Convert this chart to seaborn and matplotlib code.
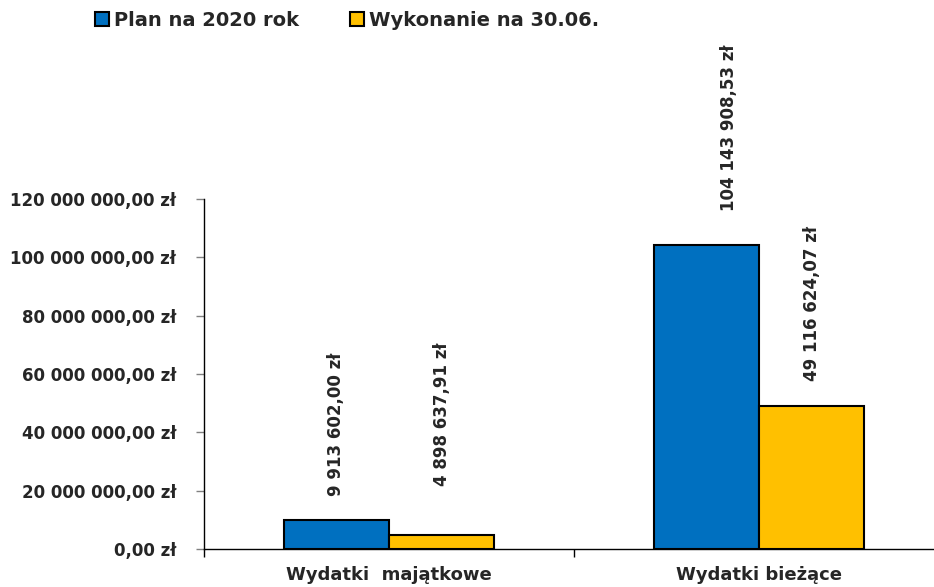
import pandas as pd
import matplotlib
matplotlib.use('Agg')
import matplotlib.pyplot as plt
from matplotlib.ticker import FuncFormatter, FixedLocator
import seaborn as sns

# Data
categories = ['Wydatki  majątkowe', 'Wydatki bieżące']
series = ['Plan na 2020 rok', 'Wykonanie na 30.06.']
plan = [9913602.00, 104143908.53]
wykonanie = [4898637.91, 49116624.07]

colors = ['#0070C0', '#FFC000']

df = pd.DataFrame({
    'kategoria': categories * 2,
    'seria': [series[0]] * 2 + [series[1]] * 2,
    'kwota': plan + wykonanie,
})


def fmt_zl(v, pos=None):
    s = f"{v:,.2f}".replace(',', ' ').replace('.', ',')
    return s + ' zł'


sns.set_style('white')
plt.rcParams['font.family'] = ['DejaVu Sans']
plt.rcParams['font.weight'] = 'bold'

fig = plt.figure(figsize=(9.34, 5.87), dpi=100)
ax = fig.add_axes([204 / 934, 1 - 549 / 587, 740 / 934, 350 / 587])

sns.barplot(data=df, x='kategoria', y='kwota', hue='seria', palette=colors,
            width=0.57, edgecolor='black', linewidth=1.5, saturation=1, ax=ax)

ax.set_xlim(-0.5, 1.5)
ax.set_ylim(0, 120000000)
ax.set_yticks(range(0, 120000001, 20000000))
ax.yaxis.set_major_formatter(FuncFormatter(fmt_zl))
ax.tick_params(axis='y', length=6, width=1, color='#808080', direction='out',
               pad=14, labelsize=12, left=True)
for lab in ax.get_yticklabels():
    lab.set_fontweight('bold')

# category labels without ticks, dividers as minor ticks
ax.set_xticks([0, 1])
ax.set_xticklabels(categories, fontsize=13, fontweight='bold')
ax.tick_params(axis='x', which='major', length=0, pad=12)
ax.xaxis.set_minor_locator(FixedLocator([-0.5, 0.5, 1.5]))
ax.tick_params(axis='x', which='minor', length=6, width=1, color='black',
               direction='out', bottom=True)
ax.set_xlabel('')
ax.set_ylabel('')

sns.despine(ax=ax)
ax.spines['left'].set_color('black')
ax.spines['bottom'].set_color('black')
ax.spines['left'].set_linewidth(1)
ax.spines['bottom'].set_linewidth(1)

# value labels (offsets in points as placed in the original)
label_offsets = [[(0, 17), (16.5, 24.5)], [(0, 35), (0, 18)]]
for si, cont in enumerate(ax.containers):
    for ci, bar in enumerate(cont):
        dx, dy = label_offsets[si][ci]
        ax.annotate(fmt_zl(bar.get_height()),
                    xy=(bar.get_x() + bar.get_width() / 2, bar.get_height()),
                    xytext=(dx, dy), textcoords='offset points',
                    rotation=90, ha='center', va='bottom',
                    fontsize=12, fontweight='bold', annotation_clip=False)

ax.legend(loc='center left', bbox_to_anchor=(95 / 934, 1 - 20 / 587),
          bbox_transform=fig.transFigure, ncol=2, frameon=False,
          handlelength=0.7, handleheight=0.7, handletextpad=0.3,
          columnspacing=2.6, borderpad=0, borderaxespad=0,
          prop={'weight': 'bold', 'size': 14})

fig.savefig('out.png', dpi=100)
